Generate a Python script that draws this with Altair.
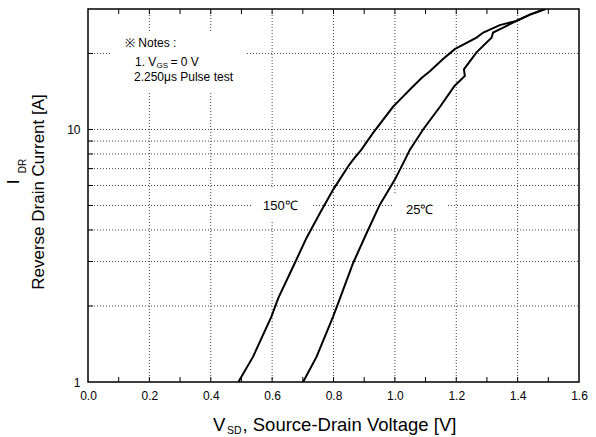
import altair as alt
import pandas as pd

# Reverse diode forward characteristic: I_DR versus V_SD at two junction temperatures
v_150 = [0.490, 0.538, 0.598, 0.620, 0.674, 0.712, 0.756, 0.799, 0.848, 0.864, 0.891,
         0.929, 0.994, 1.016, 1.054, 1.087, 1.114, 1.157, 1.195, 1.266, 1.288, 1.342,
         1.396, 1.440, 1.490]
i_150 = [1.00, 1.26, 1.82, 2.15, 2.96, 3.72, 4.67, 5.78, 7.15, 7.60, 8.32,
         9.70, 12.3, 13.1, 14.6, 16.0, 17.0, 19.0, 20.8, 23.1, 24.2, 25.9,
         26.9, 28.5, 30.0]

v_25 = [0.701, 0.745, 0.799, 0.815, 0.864, 0.908, 0.951, 1.000, 1.033, 1.049, 1.092,
        1.147, 1.195, 1.228, 1.225, 1.266, 1.315, 1.320, 1.353, 1.396, 1.440, 1.490]
i_25 = [1.00, 1.26, 1.82, 2.05, 2.96, 3.89, 5.04, 6.33, 7.60, 8.32, 10.0,
        12.3, 14.9, 16.3, 17.3, 20.2, 23.1, 24.2, 25.3, 26.9, 28.5, 30.0]

x_labels = [0.0, 0.2, 0.4, 0.6, 0.8, 1.0, 1.2, 1.4, 1.6]
y_labels = [1, 10]
x_grid = [0.2, 0.4, 0.6, 0.8, 1.0, 1.2, 1.4]
y_grid = [2, 3, 4, 5, 6, 7, 8, 9, 10, 20]
x_minor = [0.1, 0.2, 0.3, 0.4, 0.5, 0.6, 0.7, 0.8, 0.9, 1.0, 1.1, 1.2, 1.3, 1.4, 1.5]

W, H = 491, 373
FONT = "Liberation Sans"
GRID = "#444444"

curves = pd.DataFrame({
    "v": v_150 + v_25,
    "i": i_150 + i_25,
    "temp": ["150"] * len(v_150) + ["25"] * len(v_25),
    "k": list(range(len(v_150))) + list(range(len(v_25))),
})

xscale = alt.Scale(domain=[0, 1.6], nice=False, zero=False)
yscale = alt.Scale(type="log", domain=[1, 30], nice=False)

# one shared axis definition per channel, used by every layer with a field on it
xaxis = alt.Axis(values=x_labels, format=".1f", title=None, grid=False, ticks=False,
                 tickSize=0, domain=False, labelPadding=8, labelFlush=False)
yaxis = alt.Axis(values=y_labels, format="~g", title=None, grid=False, ticks=False,
                 tickSize=0, domain=False, labelPadding=8, labelFlush=False)

one = pd.DataFrame({"t": [""]})


def text_at(txt, x, y, size, angle=0, align="left"):
    kw = dict(font=FONT, fontSize=size, color="black", align=align, baseline="middle")
    if angle:
        kw["angle"] = angle
    return alt.Chart(pd.DataFrame({"t": [txt]})).mark_text(**kw).encode(
        text="t:N", x=alt.value(x), y=alt.value(y)
    )


def blank_box(x1, x2, y1, y2):
    return alt.Chart(one).mark_rect(color="white").encode(
        x=alt.value(x1), x2=alt.value(x2), y=alt.value(y1), y2=alt.value(y2)
    )


grid_v = alt.Chart(pd.DataFrame({"gx": x_grid})).mark_rule(
    color=GRID, strokeWidth=1, strokeDash=[1, 2]
).encode(x=alt.X("gx:Q", scale=xscale, axis=xaxis), y=alt.value(0), y2=alt.value(H))

grid_h = alt.Chart(pd.DataFrame({"gy": y_grid})).mark_rule(
    color=GRID, strokeWidth=1, strokeDash=[1, 2]
).encode(y=alt.Y("gy:Q", scale=yscale, axis=yaxis), x=alt.value(0), x2=alt.value(W))

ticks_df = pd.DataFrame({"tx": x_minor})
ticks_bottom = alt.Chart(ticks_df).mark_rule(color="black", strokeWidth=1).encode(
    x=alt.X("tx:Q", scale=xscale, axis=xaxis), y=alt.value(H), y2=alt.value(H - 5)
)
ticks_top = alt.Chart(ticks_df).mark_rule(color="black", strokeWidth=1).encode(
    x=alt.X("tx:Q", scale=xscale, axis=xaxis), y=alt.value(0), y2=alt.value(5)
)
ticks_left = alt.Chart(pd.DataFrame({"ty": y_grid})).mark_rule(color="black", strokeWidth=1).encode(
    y=alt.Y("ty:Q", scale=yscale, axis=yaxis), x=alt.value(0), x2=alt.value(5)
)

lines = alt.Chart(curves).mark_line(color="black", strokeWidth=2, clip=True).encode(
    x=alt.X("v:Q", scale=xscale, axis=xaxis),
    y=alt.Y("i:Q", scale=yscale, axis=yaxis),
    detail="temp:N",
    order="k:Q",
)

layers = [
    grid_v,
    grid_h,
    blank_box(22, 159, 23, 82),
    blank_box(164, 224, 178, 213),
    blank_box(306, 360, 184, 218),
    ticks_bottom,
    ticks_top,
    ticks_left,
    lines,
    # notes block
    text_at("※ Notes :", 37, 34, 12),
    text_at("1. V", 47, 53, 12),
    text_at("GS", 68.5, 57, 8),
    text_at("= 0 V", 82.5, 53, 12),
    text_at("2.250μs Pulse test", 46, 68, 12),
    # curve labels
    text_at("150℃", 175, 197, 13),
    text_at("25℃", 318, 201, 13),
    # y title
    text_at("Reverse Drain Current [A]", -49, 183, 17, angle=270, align="center"),
    text_at("I", -74, 173, 17, angle=270, align="center"),
    text_at("DR", -65, 157, 10, angle=270, align="center"),
    # x title
    text_at("V", 125, 416, 18.5),
    text_at("SD", 139, 422, 10.5),
    text_at(", Source-Drain Voltage [V]", 154.5, 416, 18.5),
]

chart = alt.layer(*layers).properties(
    width=W,
    height=H,
    padding={"left": 88, "top": 9, "right": 596 - 88 - W, "bottom": 437 - 9 - H},
    autosize=alt.AutoSizeParams(type="none"),
).configure_view(
    stroke="black", strokeWidth=1.5
).configure_axis(
    labelFont=FONT, labelFontSize=12, labelColor="black"
)

chart.save("out.html", embed_options={"renderer": "svg", "actions": False})
